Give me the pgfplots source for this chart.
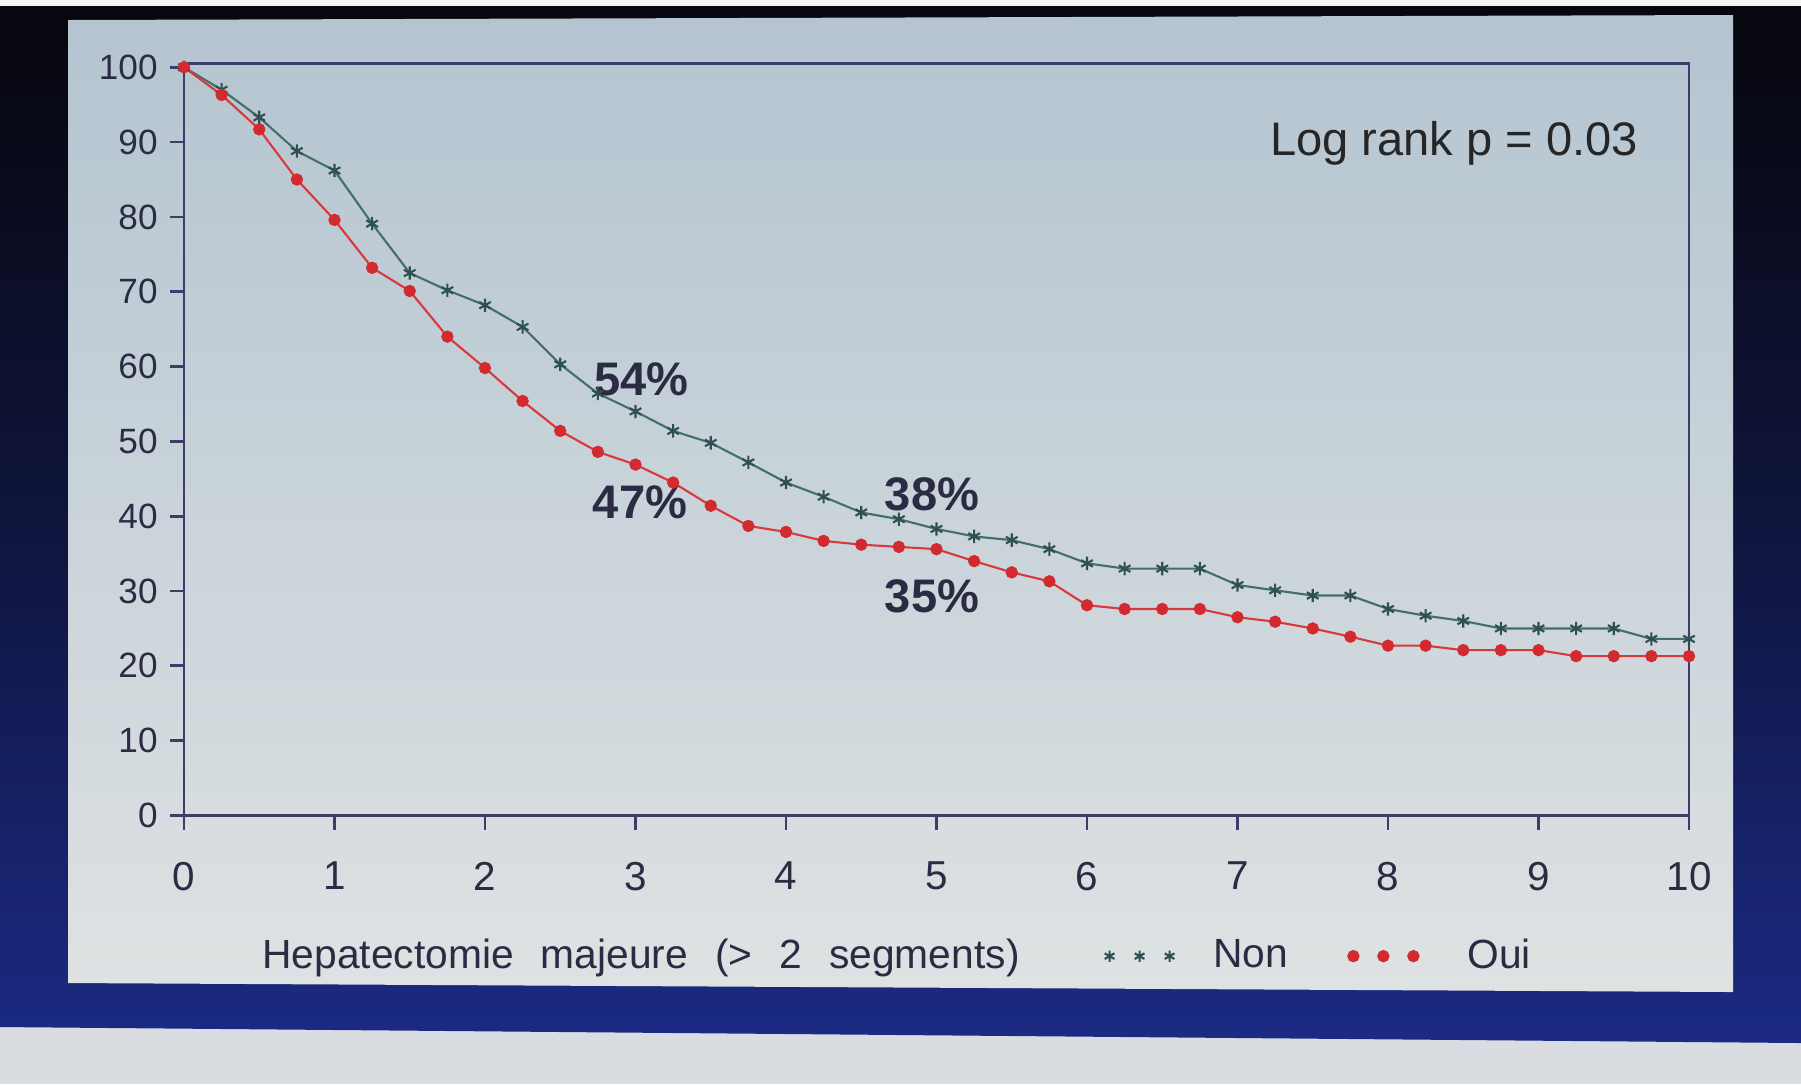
\documentclass[border=0pt]{standalone}
\usepackage{pgfplots}
\usepackage{pgfplotstable}
\pgfplotsset{compat=1.18}
\usepackage{fontspec}
\setmainfont{Liberation Sans}

\definecolor{nonline}{HTML}{426F6C}
\definecolor{nonmark}{HTML}{2E5052}
\definecolor{ouiline}{HTML}{D8393C}
\definecolor{ouimark}{HTML}{D22A2E}
\definecolor{axcol}{HTML}{3C3D68}
\definecolor{txtcol}{HTML}{2B2C44}
\definecolor{panelTop}{HTML}{B4C4D0}
\definecolor{panelMid}{HTML}{D6DDE2}
\definecolor{panelBot}{HTML}{DEE2E3}
\definecolor{frameTop}{HTML}{07070D}
\definecolor{frameBot}{HTML}{1B2A84}
\definecolor{floorcol}{HTML}{D9DDE2}

% survie (%) par annee, Non
\pgfplotstableread{
t s
0 100
0.25 97
0.5 93.3
0.75 88.8
1 86.2
1.25 79.1
1.5 72.5
1.75 70.2
2 68.2
2.25 65.3
2.5 60.3
2.75 56.4
3 54
3.25 51.4
3.5 49.8
3.75 47.2
4 44.5
4.25 42.6
4.5 40.5
4.75 39.6
5 38.3
5.25 37.3
5.5 36.8
5.75 35.6
6 33.7
6.25 33
6.5 33
6.75 33
7 30.8
7.25 30.1
7.5 29.4
7.75 29.4
8 27.6
8.25 26.7
8.5 26
8.75 25
9 25
9.25 25
9.5 25
9.75 23.6
10 23.6
}\non

% survie (%) par annee, Oui
\pgfplotstableread{
t s
0 100
0.25 96.3
0.5 91.7
0.75 85
1 79.6
1.25 73.2
1.5 70.1
1.75 64
2 59.8
2.25 55.4
2.5 51.4
2.75 48.6
3 46.9
3.25 44.5
3.5 41.4
3.75 38.7
4 37.9
4.25 36.7
4.5 36.2
4.75 35.9
5 35.6
5.25 34
5.5 32.5
5.75 31.3
6 28.1
6.25 27.6
6.5 27.6
6.75 27.6
7 26.5
7.25 25.9
7.5 25
7.75 23.9
8 22.7
8.25 22.7
8.5 22.1
8.75 22.1
9 22.1
9.25 21.3
9.5 21.3
9.75 21.3
10 21.3
}\oui

\newcommand{\gap}{\hspace{2.7mm}}

\begin{document}
\begin{tikzpicture}
\useasboundingbox (0,0) rectangle (180.1mm,-108.4mm);
% photo background: screen frame and chart panel
\begin{scope}[x=0.1mm,y=-0.1mm]
  \fill[floorcol] (0,0) rectangle (1801,1084);
  \fill[white!92!gray] (0,0) rectangle (1801,6);
  \shade[top color=frameTop, bottom color=frameBot, middle color=frameTop!60!frameBot]
    (0,6) -- (1801,6) -- (1801,1043) -- (0,1027) -- cycle;
  \shade[top color=panelTop, middle color=panelMid, bottom color=panelBot]
    (68,20) -- (1733,15) -- (1733,992) -- (68,983) -- cycle;
\end{scope}

\begin{axis}[
  at={(18.4mm,-81.55mm)}, anchor=south west,
  scale only axis, width=150.5mm, height=75.2mm,
  xmin=0, xmax=10, ymin=0, ymax=100.5,
  xtick={0,1,...,10}, ytick={0,10,...,100},
  tick align=outside, tick pos=left,
  major tick length=1.4mm,
  axis line style={axcol, line width=0.8pt},
  every tick/.style={axcol, line width=0.8pt},
  /pgf/number format/assume math mode=true,
  yticklabel style={font=\fontsize{10}{12}\selectfont, text=txtcol},
  xticklabel style={font=\fontsize{11.5}{13}\selectfont, text=txtcol, yshift=-2mm},
  legend columns=-1,
  legend style={at={(0.04,-0.187)}, anchor=west, draw=none, fill=none,
    font=\fontsize{11.6}{13}\selectfont, text=txtcol,
    /tikz/every odd column/.append style={column sep=0pt}},
]
\addlegendimage{empty legend}
\addplot[nonline, line width=0.6pt, mark=asterisk, mark size=1.9pt,
  mark options={nonmark, line width=0.6pt},
  legend image code/.code={\draw[nonline, mark=asterisk, mark size=1.6pt, only marks]
    plot coordinates {(0mm,0mm) (3mm,0mm) (6mm,0mm)};}]
  table[x=t, y=s] {\non};
\addplot[ouiline, line width=0.6pt, mark=*, mark size=1.45pt,
  mark options={ouimark, draw=ouimark},
  legend image code/.code={\draw[ouimark, mark=*, mark size=1.45pt, only marks]
    plot coordinates {(0mm,0mm) (3mm,0mm) (6mm,0mm)};}]
  table[x=t, y=s] {\oui};
\legend{Hepatectomie\gap majeure\gap (>\gap 2\gap segments)\rule{7.8mm}{0pt},
  \rule{3.2mm}{0pt}Non\rule{5.3mm}{0pt},
  \rule{4.2mm}{0pt}Oui}

\node[font=\fontsize{13.4}{16}\selectfont\bfseries, text=txtcol] at (axis cs:3.04,58.3) {54\%};
\node[font=\fontsize{13.4}{16}\selectfont\bfseries, text=txtcol] at (axis cs:3.03,41.9) {47\%};
\node[font=\fontsize{13.4}{16}\selectfont\bfseries, text=txtcol] at (axis cs:4.97,42.9) {38\%};
\node[font=\fontsize{13.4}{16}\selectfont\bfseries, text=txtcol] at (axis cs:4.97,29.3) {35\%};
\node[anchor=east, font=\fontsize{13.4}{16}\selectfont, text=black!85] at (axis cs:9.745,89.9) {Log rank p = 0.03};
\end{axis}
\end{tikzpicture}
\end{document}
